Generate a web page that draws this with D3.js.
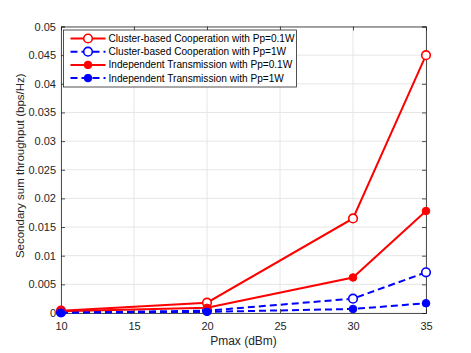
<!DOCTYPE html>
<html>
<head>
<meta charset="utf-8">
<script src="https://cdn.jsdelivr.net/npm/d3@7"></script>
<style>
  body { margin: 0; background: #fff; }
  svg text { font-family: "Liberation Sans", Arial, sans-serif; }
</style>
</head>
<body>
<div id="chart"></div>
<script>
// data
var pmax = [10, 20, 30, 35];
var coopLow = [0.0004, 0.0018, 0.0165, 0.045];
var coopHigh = [0.0001, 0.0004, 0.0025, 0.0071];
var indepLow = [0.0003, 0.0009, 0.0062, 0.0178];
var indepHigh = [0.00005, 0.0002, 0.0007, 0.0017];
var xTicks = [10, 15, 20, 25, 30, 35];
var yTicks = [0, 0.005, 0.01, 0.015, 0.02, 0.025, 0.03, 0.035, 0.04, 0.045, 0.05];

var series = [
  {name: "Cluster-based Cooperation with Pp=0.1W", values: coopLow, color: "#ff0000", dash: null, open: true},
  {name: "Cluster-based Cooperation with Pp=1W", values: coopHigh, color: "#0000ff", dash: "7,4", open: true},
  {name: "Independent Transmission with Pp=0.1W", values: indepLow, color: "#ff0000", dash: null, open: false},
  {name: "Independent Transmission with Pp=1W", values: indepHigh, color: "#0000ff", dash: "7,4", open: false}
];

var svgWidth = 471, svgHeight = 353;
var margin = {top: 26.5, right: 45, bottom: 40, left: 61};
var width = svgWidth - margin.left - margin.right;
var height = svgHeight - margin.top - margin.bottom;

var svg = d3.select("#chart").append("svg")
  .attr("width", svgWidth)
  .attr("height", svgHeight);

var g = svg.append("g")
  .attr("transform", `translate(${margin.left}, ${margin.top})`);

var x = d3.scaleLinear().domain([10, 35]).range([0, width]);
var y = d3.scaleLinear().domain([0, 0.05]).range([height, 0]);

// grid
g.selectAll(".gx").data(xTicks).enter().append("line")
  .attr("x1", d => x(d)).attr("x2", d => x(d))
  .attr("y1", 0).attr("y2", height)
  .attr("stroke", "#e6e6e6").attr("stroke-width", 1);
g.selectAll(".gy").data(yTicks).enter().append("line")
  .attr("x1", 0).attr("x2", width)
  .attr("y1", d => y(d)).attr("y2", d => y(d))
  .attr("stroke", "#e6e6e6").attr("stroke-width", 1);

// axes (ticks pointing inward, MATLAB style)
var axisColor = "#262626";
var xAxis = g.append("g").attr("transform", `translate(0, ${height})`)
  .call(d3.axisBottom(x).tickValues(xTicks).tickSize(-4).tickPadding(9).tickFormat(d3.format("d")));
var yAxis = g.append("g")
  .call(d3.axisLeft(y).tickValues(yTicks).tickSize(-4).tickPadding(5).tickFormat(d => d === 0 ? "0" : d3.format("")(d)));
var topAxis = g.append("g")
  .call(d3.axisTop(x).tickValues(xTicks).tickSize(-4).tickFormat(""));
var rightAxis = g.append("g").attr("transform", `translate(${width}, 0)`)
  .call(d3.axisRight(y).tickValues(yTicks).tickSize(-4).tickFormat(""));

[xAxis, yAxis, topAxis, rightAxis].forEach(function(a) {
  a.selectAll("path").attr("stroke", axisColor).attr("stroke-width", 0.8);
  a.selectAll("line").attr("stroke", axisColor).attr("stroke-width", 0.8);
  a.selectAll("text").attr("fill", axisColor).style("font-size", "11px");
});

// lines and markers
var line = d3.line().x((d, i) => x(pmax[i])).y(d => y(d));

series.forEach(function(s) {
  g.append("path")
    .datum(s.values)
    .attr("d", line)
    .attr("fill", "none")
    .attr("stroke", s.color)
    .attr("stroke-width", 2)
    .attr("stroke-dasharray", s.dash);

  g.selectAll(null).data(s.values).enter().append("circle")
    .attr("cx", (d, i) => x(pmax[i]))
    .attr("cy", d => y(d))
    .attr("r", s.open ? 4.3 : 3.8)
    .attr("fill", s.open ? "#fff" : s.color)
    .attr("stroke", s.color)
    .attr("stroke-width", s.open ? 1.6 : 1);
});

// legend
var legend = g.append("g").attr("transform", "translate(2.5, 3.5)");
legend.append("rect")
  .attr("width", 233).attr("height", 57)
  .attr("fill", "#fff").attr("stroke", axisColor).attr("stroke-width", 0.8);

series.forEach(function(s, i) {
  var row = legend.append("g").attr("transform", `translate(0, ${8.5 + i * 13.2})`);
  row.append("line")
    .attr("x1", 7).attr("x2", 42).attr("y1", 0).attr("y2", 0)
    .attr("stroke", s.color).attr("stroke-width", 2)
    .attr("stroke-dasharray", s.dash);
  row.append("circle")
    .attr("cx", 24.5).attr("cy", 0)
    .attr("r", s.open ? 4.3 : 3.8)
    .attr("fill", s.open ? "#fff" : s.color)
    .attr("stroke", s.color)
    .attr("stroke-width", s.open ? 1.6 : 1);
  row.append("text")
    .attr("x", 45).attr("y", 0).attr("dy", "0.35em")
    .attr("fill", "#000")
    .style("font-size", "10.1px")
    .text(s.name);
});

// axis labels
g.append("text")
  .attr("x", width / 2).attr("y", height + 32)
  .attr("text-anchor", "middle")
  .attr("fill", axisColor)
  .style("font-size", "12px")
  .text("Pmax (dBm)");

g.append("text")
  .attr("transform", "rotate(-90)")
  .attr("x", -height / 2 + 4).attr("y", -37)
  .attr("text-anchor", "middle")
  .attr("fill", axisColor)
  .style("font-size", "11.5px")
  .text("Secondary sum throughput (bps/Hz)");
</script>
</body>
</html>
